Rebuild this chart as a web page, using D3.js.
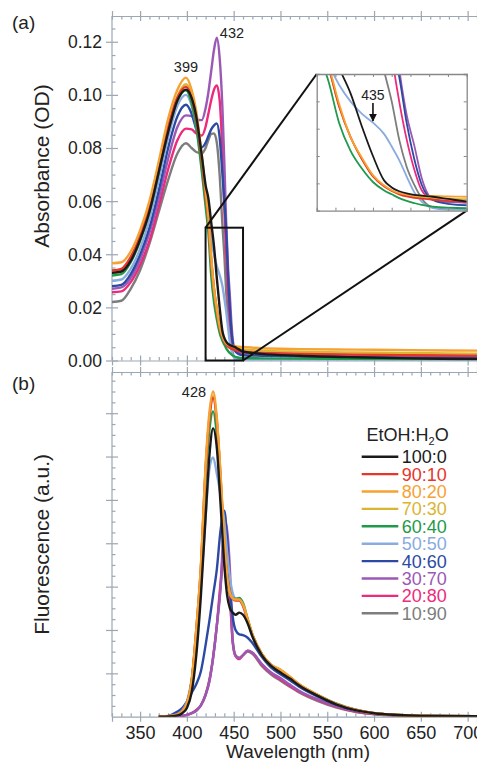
<!DOCTYPE html>
<html><head><meta charset="utf-8">
<script src="https://cdn.jsdelivr.net/npm/d3@7"></script>
<style>
html,body{margin:0;padding:0;background:#fff;}
svg{display:block;font-family:"Liberation Sans",Arial,Helvetica,sans-serif;}
</style></head>
<body><svg id="c" width="477" height="762"></svg>
<script>
// ---------- DATA ----------
const seriesNames = ["100:0","90:10","80:20","70:30","60:40","50:50","40:60","30:70","20:80","10:90"];
const seriesColors = ["#1a1a1a","#e8352b","#f6a233","#d9b531","#1e9a4a","#8aabde","#2c4aa3","#9b59b6","#ee2b7b","#7d7d7d"];

// Absorbance (OD) wavelengths
const absWl = [320,330,340,350,360,370,380,390,399,405,410,416,420,423,426,429,432,435,438,440,442,444,446,448,451,455,460,480,520,580,640,710];
const abs100 = [0.033,0.0335,0.0375,0.0455,0.056,0.071,0.086,0.098,0.102,0.099,0.092,0.077,0.066,0.061,0.052,0.043,0.031,0.020,0.011,0.0085,0.0071,0.0063,0.0058,0.0055,0.0051,0.0043,0.0034,0.0025,0.0018,0.0012,0.0008,0.0005];
const abs90  = [0.0339,0.0345,0.039,0.047,0.058,0.073,0.088,0.099,0.103,0.099,0.091,0.075,0.062,0.053,0.038,0.027,0.019,0.0125,0.0088,0.0072,0.006,0.0052,0.0047,0.0044,0.004,0.0036,0.0033,0.0028,0.0025,0.0022,0.002,0.0018];
const abs80  = [0.0366,0.037,0.041,0.049,0.060,0.075,0.091,0.102,0.1065,0.102,0.094,0.077,0.064,0.054,0.039,0.027,0.0195,0.013,0.0092,0.0075,0.0064,0.0059,0.0057,0.0055,0.0054,0.0052,0.0051,0.0046,0.0043,0.0041,0.0039,0.0037];
const abs70  = [0.033,0.0335,0.038,0.046,0.057,0.072,0.088,0.0995,0.104,0.1,0.092,0.076,0.063,0.053,0.038,0.027,0.019,0.0128,0.009,0.0074,0.0062,0.0056,0.0052,0.005,0.0047,0.0044,0.0042,0.0037,0.0033,0.003,0.0028,0.0026];
const abs60  = [0.032,0.0325,0.037,0.045,0.056,0.071,0.087,0.098,0.1017,0.097,0.088,0.071,0.058,0.048,0.032,0.022,0.0155,0.0105,0.0074,0.006,0.0046,0.0036,0.0028,0.0021,0.0015,0.0011,0.0009,0.0008,0.0007,0.0006,0.0005,0.0005];
const abs50  = [0.030,0.0305,0.0345,0.042,0.053,0.068,0.084,0.096,0.100,0.096,0.088,0.073,0.062,0.054,0.046,0.040,0.0355,0.0322,0.028,0.0235,0.0185,0.0125,0.0068,0.0033,0.0009,0.0003,0.0003,0.0003,0.0003,0.0003,0.0003,0.0003];
const abs40  = [0.028,0.0285,0.0325,0.040,0.050,0.064,0.080,0.092,0.0963,0.093,0.087,0.0803,0.082,0.0845,0.087,0.0885,0.0892,0.084,0.070,0.060,0.049,0.032,0.019,0.0095,0.0039,0.0025,0.002,0.0018,0.0015,0.0012,0.001,0.001];
const abs30  = [0.027,0.0275,0.031,0.038,0.048,0.061,0.076,0.088,0.0923,0.092,0.0908,0.0905,0.095,0.101,0.109,0.117,0.1215,0.114,0.095,0.075,0.052,0.035,0.024,0.012,0.0042,0.0032,0.003,0.0028,0.0025,0.002,0.0018,0.0015];
const abs20  = [0.0257,0.026,0.0295,0.036,0.045,0.058,0.072,0.083,0.0873,0.087,0.0855,0.0847,0.088,0.093,0.098,0.102,0.1036,0.098,0.078,0.057,0.040,0.026,0.0152,0.0075,0.004,0.0032,0.003,0.0027,0.0024,0.002,0.0018,0.0016];
const abs10  = [0.022,0.0225,0.027,0.034,0.044,0.056,0.068,0.078,0.0818,0.080,0.0785,0.078,0.080,0.083,0.0853,0.0855,0.082,0.070,0.051,0.040,0.026,0.016,0.0095,0.0045,0.0012,0.0005,0.0005,0.0005,0.0005,0.0005,0.0005,0.0005];

// Fluorescence (a.u.) wavelengths
const flWl = [370,380,390,395,400,405,410,415,420,424,428,432,436,440,443,446,449,452,456,460,465,470,480,490,500,510,520,540,560,580,600,625,650,710];
const fl100 = [0,0.005,0.03,0.08,0.2,0.55,1.4,2.8,4.6,6.0,6.65,6.2,4.9,3.5,2.8,2.5,2.4,2.35,2.4,2.35,2.15,1.85,1.42,1.17,1.02,0.88,0.72,0.48,0.28,0.15,0.08,0.04,0.02,0.01];
const fl90  = [0,0.01,0.05,0.12,0.3,0.8,2.0,3.45,5.7,6.85,7.35,6.8,5.5,4.0,3.2,2.85,2.72,2.68,2.68,2.56,2.22,1.88,1.44,1.19,1.07,0.91,0.74,0.49,0.29,0.16,0.08,0.04,0.02,0.01];
const fl80  = [0,0.01,0.05,0.12,0.3,0.8,2.0,3.5,5.8,7.0,7.5,6.9,5.6,4.1,3.25,2.85,2.73,2.7,2.7,2.58,2.25,1.9,1.45,1.2,1.08,0.92,0.75,0.5,0.29,0.16,0.08,0.04,0.02,0.01];
const fl70  = [0,0.01,0.05,0.12,0.3,0.8,2.0,3.45,5.75,6.9,7.4,6.85,5.55,4.05,3.2,2.85,2.73,2.7,2.7,2.58,2.24,1.9,1.45,1.2,1.08,0.92,0.75,0.5,0.29,0.16,0.08,0.04,0.02,0.01];
const fl60  = [0,0.01,0.05,0.12,0.3,0.8,1.9,3.3,5.5,6.6,7.04,6.5,5.3,3.9,3.2,2.85,2.74,2.72,2.74,2.62,2.25,1.9,1.45,1.18,1.06,0.9,0.74,0.5,0.3,0.16,0.08,0.04,0.02,0.01];
const fl50  = [0,0.01,0.06,0.14,0.35,0.85,1.8,3.0,4.6,5.7,5.98,5.6,5.1,4.5,3.8,3.2,2.85,2.72,2.7,2.55,2.2,1.88,1.45,1.18,1.04,0.9,0.73,0.5,0.29,0.16,0.08,0.04,0.02,0.01];
const fl40  = [0,0.02,0.12,0.2,0.35,0.55,0.75,1.05,1.65,2.2,2.8,3.4,4.3,4.75,4.1,3.0,2.3,2.0,1.9,1.88,1.82,1.7,1.38,1.13,0.98,0.84,0.69,0.46,0.27,0.14,0.07,0.035,0.02,0.01];
const fl30  = [0,0,0.01,0.02,0.04,0.08,0.13,0.26,0.5,0.8,1.35,2.1,2.95,4.55,4.3,3.4,1.75,1.4,1.35,1.42,1.52,1.48,1.22,1.02,0.89,0.74,0.6,0.4,0.24,0.13,0.065,0.03,0.015,0.005];
const fl20  = [0,0,0.01,0.02,0.04,0.08,0.15,0.26,0.5,0.82,1.35,2.1,3.1,3.95,3.6,2.8,1.7,1.4,1.33,1.42,1.52,1.47,1.2,1.0,0.86,0.71,0.58,0.38,0.23,0.12,0.06,0.03,0.015,0.005];
const fl10  = [0,0,0.01,0.02,0.04,0.08,0.15,0.27,0.52,0.85,1.38,2.1,3.0,3.75,3.5,2.75,1.75,1.42,1.36,1.42,1.5,1.45,1.17,0.97,0.83,0.69,0.56,0.36,0.21,0.11,0.055,0.025,0.012,0.005];

const absSeries = [abs100,abs90,abs80,abs70,abs60,abs50,abs40,abs30,abs20,abs10];
const flSeries  = [fl100,fl90,fl80,fl70,fl60,fl50,fl40,fl30,fl20,fl10];

const absTicks = [0,0.02,0.04,0.06,0.08,0.10,0.12];
const wlTicks = [350,400,450,500,550,600,650,700];

// ---------- LAYOUT ----------
const svg = d3.select("#c");
const X0 = 112, X1 = 477;
const aTop = 16, aBot = 360.5;
const bTop = 372, bBot = 716.7;
const axisCol = "#9ba7b3";
const textCol = "#222";

const x = d3.scaleLinear().domain([320,710]).range([X0,X1]);
const yA = d3.scaleLinear().domain([0,0.1297]).range([aBot,aTop]);
const yB = d3.scaleLinear().domain([0,7.95]).range([bBot,bTop]);

const defs = svg.append("defs");
defs.append("clipPath").attr("id","clipA")
  .append("rect").attr("x",X0).attr("y",aTop).attr("width",X1-X0).attr("height",aBot-aTop);
defs.append("clipPath").attr("id","clipB")
  .append("rect").attr("x",X0).attr("y",bTop).attr("width",X1-X0).attr("height",bBot-bTop);

const minorX = d3.range(320,711,10).filter(v=>v%50!==0);

function styleAxis(g){
  g.select(".domain").attr("stroke",axisCol).attr("stroke-width",1.2);
  g.selectAll(".tick line").attr("stroke",axisCol).attr("stroke-width",1.2);
  g.selectAll(".tick text").attr("fill",textCol);
}
function xAxisAt(yPos, dir, showLabels){
  const ax = (dir>0? d3.axisTop(x) : d3.axisBottom(x)).tickValues(wlTicks).tickSize(5)
     .tickFormat(showLabels? d3.format("d") : "");
  const g = svg.append("g").attr("transform",`translate(0,${yPos})`).call(ax);
  styleAxis(g);
  g.selectAll(".tick line").attr("y1", dir>0? 5 : -5).attr("y2", dir>0? -5 : 5);
  g.selectAll(".tick text").attr("font-size",18);
  const ax2 = (dir>0? d3.axisBottom(x) : d3.axisTop(x)).tickValues(minorX).tickSize(3.5).tickFormat("");
  const g2 = svg.append("g").attr("transform",`translate(0,${yPos})`).call(ax2);
  styleAxis(g2); g2.select(".domain").remove();
  return g;
}

// ---------- PANEL A ----------
{
  const ay = d3.axisLeft(yA).tickValues(absTicks).tickSize(6).tickPadding(4).tickFormat(d3.format(".2f"));
  const g = svg.append("g").attr("transform",`translate(${X0},0)`).call(ay);
  styleAxis(g);
  g.selectAll(".tick line").attr("x1",6);
  g.selectAll(".tick text").attr("font-size",17.5).attr("dy","0.34em");
  g.select(".domain").attr("d",`M0,${aBot}V${aTop}`);
  const minorA = d3.range(0,0.13,0.005).filter(v=>Math.round(v*1000)%20!==0);
  const g2 = svg.append("g").attr("transform",`translate(${X0},0)`).call(d3.axisRight(yA).tickValues(minorA).tickSize(3.5).tickFormat(""));
  styleAxis(g2); g2.select(".domain").remove();
  xAxisAt(aTop, 1, false);
  xAxisAt(aBot, -1, false);
}
const lineA = d3.line().x(d=>x(d[0])).y(d=>yA(d[1])).curve(d3.curveMonotoneX);
const gA = svg.append("g").attr("clip-path","url(#clipA)");
const drawOrder = [9,8,7,6,5,4,3,1,2,0];
drawOrder.forEach(i=>{
  gA.append("path").datum(absWl.map((w,k)=>[w,absSeries[i][k]]))
    .attr("d",lineA).attr("fill","none").attr("stroke",seriesColors[i])
    .attr("stroke-width",2.4).attr("stroke-linejoin","round");
});

// zoom rectangle
svg.append("rect").attr("x",x(420)).attr("y",yA(0.05)).attr("width",x(460)-x(420)).attr("height",yA(0)-yA(0.05))
  .attr("fill","none").attr("stroke","#111").attr("stroke-width",2);

// inset
const iX0=316.7, iX1=466.7, iY0=74, iY1=210.7;
const xi = d3.scaleLinear().domain([420,460]).range([iX0,iX1]);
const yi = d3.scaleLinear().domain([0,0.05]).range([iY1,iY0]);
svg.append("line").attr("x1",x(420)).attr("y1",yA(0.05)).attr("x2",iX0).attr("y2",iY0).attr("stroke","#111").attr("stroke-width",2);
svg.append("line").attr("x1",x(460)).attr("y1",yA(0)).attr("x2",iX1).attr("y2",iY1).attr("stroke","#111").attr("stroke-width",2);
svg.append("rect").attr("x",iX0).attr("y",iY0).attr("width",iX1-iX0).attr("height",iY1-iY0).attr("fill","#fff");
defs.append("clipPath").attr("id","clipI")
  .append("rect").attr("x",iX0).attr("y",iY0).attr("width",iX1-iX0).attr("height",iY1-iY0);
const lineI = d3.line().x(d=>xi(d[0])).y(d=>yi(d[1])).curve(d3.curveMonotoneX);
const gI = svg.append("g").attr("clip-path","url(#clipI)");
drawOrder.forEach(i=>{
  gI.append("path").datum(absWl.map((w,k)=>[w,absSeries[i][k]]))
    .attr("d",lineI).attr("fill","none").attr("stroke",seriesColors[i])
    .attr("stroke-width",1.8).attr("stroke-linejoin","round");
});
{
  const it = d3.range(425,460,5), iy = [0.01,0.02,0.03,0.04];
  const gb = svg.append("g").attr("transform",`translate(0,${iY1})`).call(d3.axisTop(xi).tickValues(it).tickSize(3).tickFormat(""));
  const gt = svg.append("g").attr("transform",`translate(0,${iY0})`).call(d3.axisBottom(xi).tickValues(it).tickSize(3).tickFormat(""));
  const gl = svg.append("g").attr("transform",`translate(${iX0},0)`).call(d3.axisRight(yi).tickValues(iy).tickSize(3).tickFormat(""));
  const gr = svg.append("g").attr("transform",`translate(${iX1},0)`).call(d3.axisLeft(yi).tickValues(iy).tickSize(3).tickFormat(""));
  [gb,gt,gl,gr].forEach(g=>{ g.select(".domain").attr("stroke","#888").attr("stroke-width",1.3); g.selectAll(".tick line").attr("stroke","#888"); });
}
// inset annotation
svg.append("text").attr("x",xi(435)).attr("y",100).attr("text-anchor","middle").attr("font-size",14).attr("fill",textCol).text("435");
defs.append("marker").attr("id","arr").attr("viewBox","0 0 10 10").attr("refX",9).attr("refY",5)
  .attr("markerWidth",5).attr("markerHeight",6).attr("orient","auto")
  .append("path").attr("d","M0,0L10,5L0,10z").attr("fill","#111");
svg.append("line").attr("x1",xi(435)).attr("x2",xi(435)).attr("y1",103).attr("y2",121)
  .attr("stroke","#111").attr("stroke-width",1.6).attr("marker-end","url(#arr)");

svg.append("text").attr("x",x(399)).attr("y",72).attr("text-anchor","middle").attr("font-size",14.5).attr("fill",textCol).text("399");
svg.append("text").attr("x",x(432)+3).attr("y",38).attr("text-anchor","start").attr("font-size",14.5).attr("fill",textCol).text("432");
svg.append("text").attr("x",12).attr("y",28.5).attr("font-size",19).attr("fill",textCol).text("(a)");
svg.append("text").attr("transform",`translate(49,166) rotate(-90)`).attr("text-anchor","middle")
  .attr("font-size",21).attr("fill",textCol).text("Absorbance (OD)");

// ---------- PANEL B ----------
{
  const majors = d3.range(1,8,1);
  const g = svg.append("g").attr("transform",`translate(${X0},0)`).call(d3.axisLeft(yB).tickValues(majors).tickSize(6).tickFormat(""));
  styleAxis(g);
  g.selectAll(".tick line").attr("x1",6);
  g.select(".domain").attr("d",`M0,${bBot}V${bTop}`);
  const minorB = d3.range(0.25,7.95,0.25).filter(v=>Math.abs(v-Math.round(v))>0.01);
  const g2 = svg.append("g").attr("transform",`translate(${X0},0)`).call(d3.axisRight(yB).tickValues(minorB).tickSize(3.5).tickFormat(""));
  styleAxis(g2); g2.select(".domain").remove();
  xAxisAt(bTop, 1, false);
  const gb = xAxisAt(bBot, -1, true);
  gb.selectAll(".tick text").attr("y",22).attr("dy",null).attr("font-size",18);
}
const lineB = d3.line().x(d=>x(d[0])).y(d=>yB(d[1])).curve(d3.curveMonotoneX);
const gB = svg.append("g").attr("clip-path","url(#clipB)");
drawOrder.forEach(i=>{
  gB.append("path").datum(flWl.map((w,k)=>[w,flSeries[i][k]]))
    .attr("d",lineB).attr("fill","none").attr("stroke",seriesColors[i])
    .attr("stroke-width",2.4).attr("stroke-linejoin","round");
});
svg.append("text").attr("x",x(428)-7).attr("y",397).attr("text-anchor","end").attr("font-size",14.5).attr("fill",textCol).text("428");
svg.append("text").attr("x",12).attr("y",389.5).attr("font-size",19).attr("fill",textCol).text("(b)");
svg.append("text").attr("transform",`translate(49,${(bTop+bBot)/2}) rotate(-90)`).attr("text-anchor","middle")
  .attr("font-size",21).attr("fill",textCol).text("Fluorescence (a.u.)");
svg.append("text").attr("x",298).attr("y",757.5).attr("text-anchor","middle").attr("font-size",19).attr("fill",textCol).text("Wavelength (nm)");

// legend
{
  const lg = svg.append("g");
  const t = lg.append("text").attr("x",366.5).attr("y",441).attr("font-size",18).attr("fill",textCol);
  t.append("tspan").text("EtOH:H");
  t.append("tspan").attr("font-size",11).attr("dy",4).text("2");
  t.append("tspan").attr("dy",-4).text("O");
  seriesNames.forEach((n,i)=>{
    const yy = 456.7 + i*17.4;
    lg.append("line").attr("x1",361.7).attr("x2",398.3).attr("y1",yy).attr("y2",yy)
      .attr("stroke",seriesColors[i]).attr("stroke-width",2.4);
    lg.append("text").attr("x",401.7).attr("y",yy).attr("dy","0.36em").attr("font-size",18)
      .attr("fill",seriesColors[i]).text(n);
  });
}
</script></body></html>
